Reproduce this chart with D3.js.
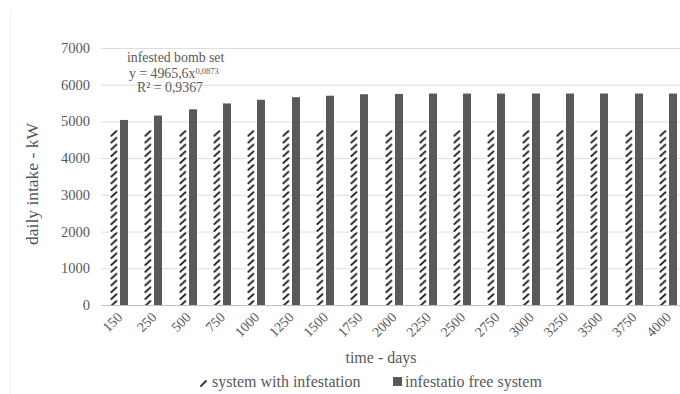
<!DOCTYPE html>
<html lang="en">
<head>
<meta charset="UTF-8">
<title>Daily intake</title>
<script src="https://cdn.jsdelivr.net/npm/d3@7/dist/d3.min.js"></script>
<style>
  body { margin: 0; background: #fff; }
  svg text { fill: #595959; font-family: "Liberation Serif", "DejaVu Serif", serif; }
</style>
</head>
<body>
<script>
// data
const days = ["150","250","500","750","1000","1250","1500","1750","2000","2250","2500","2750","3000","3250","3500","3750","4000"];
const infested = [4770,4770,4770,4770,4770,4770,4770,4770,4770,4770,4770,4770,4770,4770,4770,4770,4770];
const infestFree = [5040,5160,5330,5490,5590,5660,5700,5740,5750,5760,5760,5760,5760,5760,5760,5760,5760];
const yTicks = [0,1000,2000,3000,4000,5000,6000,7000];

const width = 680, height = 394;
const svg = d3.select("body").append("svg")
    .attr("width", width).attr("height", height);

const x = d3.scaleBand().domain(days).range([102, 685]);
const y = d3.scaleLinear().domain([0, 7000]).range([305, 48]);
const barW = 8;

// hatch pattern, one tile per bar width so every bar looks the same
const tileH = 6.8;
const hatchH = y(0) - y(infested[0]);
const defs = svg.append("defs");
const pat = defs.append("pattern")
    .attr("id", "hatch")
    .attr("patternUnits", "objectBoundingBox")
    .attr("width", 1).attr("height", tileH / hatchH);
pat.append("rect").attr("width", barW).attr("height", tileH).attr("fill", "#fff");
pat.append("path")
    .attr("d", "M1.4,5.8 L6.4,1.2")
    .attr("stroke", "#2b2b2b").attr("stroke-width", 2).attr("stroke-linecap", "round");

// faint frame edge
svg.append("line").attr("x1", 10.5).attr("x2", 10.5).attr("y1", 10).attr("y2", height)
    .attr("stroke", "#eeeeee");

// gridlines
svg.append("g").selectAll("line").data(yTicks).join("line")
    .attr("x1", 101).attr("x2", width)
    .attr("y1", d => y(d) + 0.5).attr("y2", d => y(d) + 0.5)
    .attr("stroke", d => d === 0 ? "#bfbfbf" : "#dedede");

// y tick labels
svg.append("g").selectAll("text").data(yTicks).join("text")
    .attr("x", 90).attr("y", d => y(d) + 5)
    .attr("text-anchor", "end")
    .attr("font-size", 14.5)
    .text(d => d);

// infested bars (hatched)
svg.append("g").selectAll("rect").data(infested).join("rect")
    .attr("x", (d, i) => Math.round(x(days[i]) + x.bandwidth() / 2 - barW - 1))
    .attr("y", d => y(d))
    .attr("width", barW)
    .attr("height", d => y(0) - y(d))
    .attr("fill", "url(#hatch)");

// infestation free bars
svg.append("g").selectAll("rect").data(infestFree).join("rect")
    .attr("x", (d, i) => Math.round(x(days[i]) + x.bandwidth() / 2 + 1))
    .attr("y", d => y(d))
    .attr("width", barW)
    .attr("height", d => y(0) - y(d))
    .attr("fill", "#595959");

// x tick labels
svg.append("g").selectAll("text").data(days).join("text")
    .attr("transform", d => `translate(${x(d) + x.bandwidth() / 2 + 4},${318}) rotate(-45)`)
    .attr("text-anchor", "end")
    .attr("font-size", 14)
    .text(d => d);

// axis titles
svg.append("text")
    .attr("x", 381).attr("y", 363)
    .attr("text-anchor", "middle")
    .attr("font-size", 16)
    .text("time - days");

svg.append("text")
    .attr("transform", "translate(38,184) rotate(-90)")
    .attr("text-anchor", "middle")
    .attr("font-size", 17.5)
    .text("daily intake - kW");

// trendline annotation
const ann = svg.append("g").attr("font-size", 13.8);
ann.append("text").attr("x", 127).attr("y", 62).text("infested bomb set");
const eq = ann.append("text").attr("x", 129).attr("y", 77.5);
eq.append("tspan").text("y = 4965,6x");
eq.append("tspan").attr("dy", -4).attr("font-size", 8.5).text("0,0873");
ann.append("text").attr("x", 137).attr("y", 91.5).text("R² = 0,9367");

// legend
const leg = svg.append("g").attr("font-size", 16);
leg.append("path").attr("d", "M201,386 L206,381")
    .attr("stroke", "#333").attr("stroke-width", 1.8).attr("stroke-linecap", "round");
leg.append("text").attr("x", 212).attr("y", 387).text("system with infestation");
leg.append("rect").attr("x", 393).attr("y", 377).attr("width", 9).attr("height", 9).attr("fill", "#595959");
leg.append("text").attr("x", 405).attr("y", 387).text("infestatio free system");
</script>
</body>
</html>
